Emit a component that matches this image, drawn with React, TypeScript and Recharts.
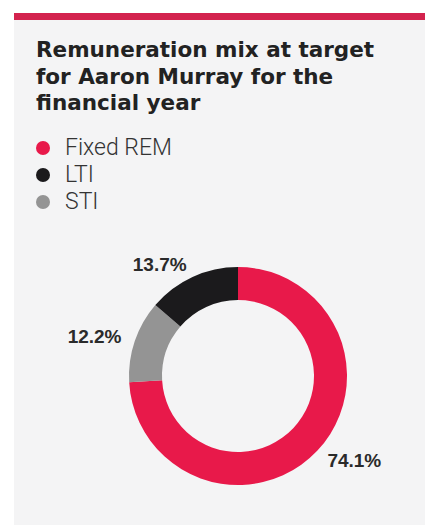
import React from 'react';
import { PieChart, Pie, Cell } from 'recharts';

// Pie order runs clockwise from 12 o'clock
const segments = ['Fixed REM', 'STI', 'LTI'];
const shares = [74.1, 12.2, 13.7];
const segmentColors = ['#E8194A', '#949494', '#1B1A1C'];

// Legend is listed in a different order than the ring
const legendItems = ['Fixed REM', 'LTI', 'STI'];

const pieData = segments.map((name, i) => ({ name, value: shares[i], color: segmentColors[i] }));

const RADIAN = Math.PI / 180;

const renderLabel = (props: any) => {
  const { cx, cy, midAngle, outerRadius, value } = props;
  const r = outerRadius + 14;
  const x = cx + r * Math.cos(-midAngle * RADIAN);
  const y = cy + r * Math.sin(-midAngle * RADIAN);
  return (
    <text
      x={x}
      y={y}
      fill="#2A2A2A"
      fontSize={19}
      fontWeight={700}
      fontFamily="'Liberation Sans', Arial, sans-serif"
      textAnchor={x > cx ? 'start' : 'end'}
      dominantBaseline="central"
    >
      {`${value.toFixed(1)}%`}
    </text>
  );
};

const App: React.FC = () => {
  const colorOf = (name: string) => pieData.find(d => d.name === name)?.color;

  return (
    <div style={{ position: 'absolute', left: 0, top: 0, width: 425, height: 525, background: '#fff' }}>
      {/* Panel with red top rule */}
      <div style={{ position: 'absolute', left: 14, top: 13, width: 411, height: 512, background: '#F4F4F5' }}>
        <div style={{ height: 7, background: '#D3234E' }} />
      </div>

      {/* Title */}
      <div
        style={{
          position: 'absolute',
          left: 36,
          top: 37,
          width: 380,
          fontFamily: "'DejaVu Sans', sans-serif",
          fontWeight: 700,
          fontSize: 21.5,
          lineHeight: '26.5px',
          color: '#222',
        }}
      >
        Remuneration mix at target
        <br />
        for Aaron Murray for the
        <br />
        financial year
      </div>

      {/* Legend */}
      <div style={{ position: 'absolute', left: 36, top: 134 }}>
        {legendItems.map(name => (
          <div key={name} style={{ display: 'flex', alignItems: 'center', height: 27 }}>
            <span
              style={{
                width: 14,
                height: 14,
                borderRadius: '50%',
                background: colorOf(name),
                marginRight: 15,
                display: 'inline-block',
              }}
            />
            <span style={{ fontFamily: 'Roboto, sans-serif', fontWeight: 300, fontSize: 23, color: '#333' }}>
              {name}
            </span>
          </div>
        ))}
      </div>

      {/* Donut */}
      <div style={{ position: 'absolute', left: 0, top: 0 }}>
        <PieChart width={425} height={525} margin={{ top: 0, right: 0, bottom: 0, left: 0 }}>
          <Pie
            data={pieData}
            dataKey="value"
            nameKey="name"
            cx={238}
            cy={376}
            innerRadius={76}
            outerRadius={109}
            startAngle={90}
            endAngle={-270}
            stroke="none"
            label={renderLabel}
            labelLine={false}
            isAnimationActive={false}
          >
            {pieData.map(d => (
              <Cell key={d.name} fill={d.color} />
            ))}
          </Pie>
        </PieChart>
      </div>
    </div>
  );
};

export default App;
